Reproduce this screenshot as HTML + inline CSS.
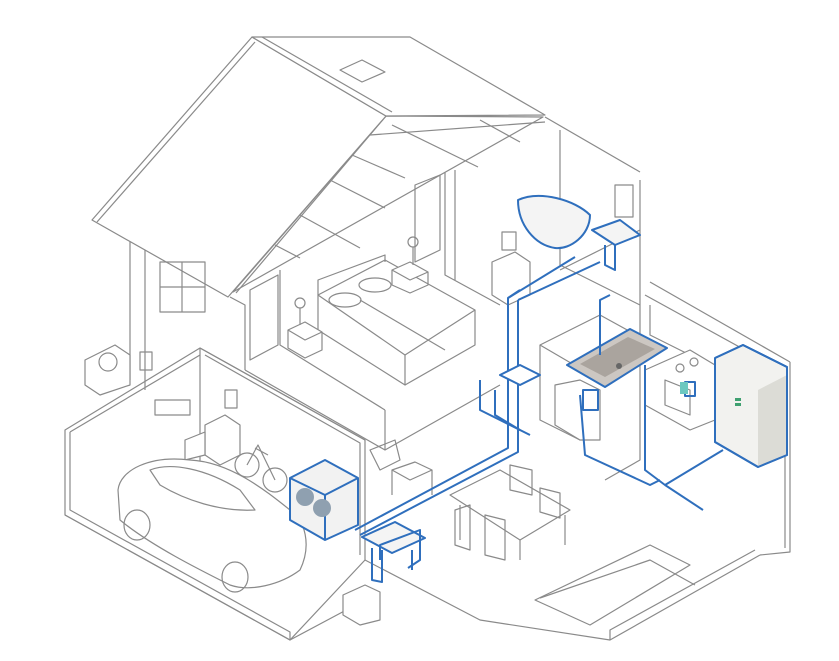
<!DOCTYPE html>
<html><head><meta charset="utf-8"><style>
html,body{margin:0;padding:0;background:#fff;width:839px;height:661px;overflow:hidden}
svg{display:block}
</style></head><body>
<svg width="839" height="661" viewBox="0 0 839 661" xmlns="http://www.w3.org/2000/svg">
<g fill="none" stroke="#8a8a8a" stroke-width="1.2" stroke-linejoin="round">
<!-- base / foundation -->
<polygon points="65,430 200,348 365,440 365,560 290,640 65,515" fill="#fff"/>
<polyline points="65,515 290,640 365,600"/>
<polyline points="290,640 290,632 70,510 70,432"/>
<polyline points="365,560 480,620 610,640 760,555"/>
<polyline points="610,640 610,630 755,550"/>
<polyline points="790,362 790,552 760,555"/>
<polyline points="785,365 785,548"/>
<polygon points="535,600 590,625 690,565 650,545" />
<polyline points="540,598 650,560 695,585"/>
<!-- garage walls -->
<polyline points="200,348 200,470"/>
<polyline points="200,348 365,440"/>
<polyline points="205,355 360,443 360,555"/>
<polyline points="70,432 200,355"/>
<!-- upper house walls -->
<polyline points="130,240 130,380"/>
<polyline points="145,250 145,390"/>
<polyline points="230,297 245,305 245,370"/>
<polyline points="245,370 385,450 500,385"/>
<polyline points="280,270 280,345 385,410"/>
<polyline points="385,410 385,450"/>
<polyline points="445,165 445,275 500,305"/>
<polyline points="455,170 455,280"/>
<polyline points="560,130 560,265 640,305"/>
<polyline points="640,180 640,310"/>
<polyline points="640,310 640,460 605,480"/>
<polyline points="545,117 640,172"/>
<polyline points="650,282 790,362"/>
<polyline points="645,295 785,372"/>
<polyline points="560,270 640,230"/>
<!-- roof -->
<polygon points="386,116 543,117 233,292" fill="#fff"/>
<polyline points="386,116 236,293"/>
<line x1="370" y1="135" x2="545" y2="122"/>
<line x1="392" y1="125" x2="478" y2="167"/>
<line x1="352" y1="155" x2="405" y2="178"/>
<line x1="330" y1="180" x2="385" y2="208"/>
<line x1="300" y1="215" x2="360" y2="248"/>
<line x1="275" y1="245" x2="300" y2="258"/>
<line x1="480" y1="120" x2="520" y2="142"/>
<polygon points="92,220 252,37 386,116 228,297" fill="#fff"/>
<polyline points="97,222 255,42"/>
<polygon points="252,37 410,37 545,115 386,116" fill="#fff"/>
<polyline points="262,37 392,112"/>
<polygon points="340,70 362,60 385,72 362,82"/>
<!-- windows -->
<rect x="160" y="262" width="45" height="50" />
<line x1="182" y1="262" x2="182" y2="312"/><line x1="160" y1="287" x2="205" y2="287"/>
<rect x="615" y="185" width="18" height="32"/>
<polygon points="250,290 278,275 278,345 250,360"/>
<polygon points="415,185 440,175 440,250 415,262"/>
<!-- AC unit -->
<polygon points="85,360 115,345 130,355 130,385 100,395 85,385" fill="#fff"/>
<circle cx="108" cy="362" r="9"/>
<rect x="140" y="352" width="12" height="18"/>
<!-- bed -->
<polygon points="318,295 385,260 475,310 405,355" fill="#fff"/>
<polyline points="318,295 318,330 405,385 405,355"/>
<polyline points="405,385 475,345 475,310"/>
<polyline points="318,295 318,280 385,255 385,262"/>
<ellipse cx="345" cy="300" rx="16" ry="7"/><ellipse cx="375" cy="285" rx="16" ry="7"/>
<line x1="360" y1="300" x2="445" y2="350"/>
<!-- nightstands & lamps -->
<polygon points="288,330 305,322 322,332 305,340" fill="#fff"/><polyline points="288,330 288,348 305,358 322,350 322,332"/>
<circle cx="300" cy="303" r="5"/><line x1="300" y1="308" x2="300" y2="325"/>
<polygon points="392,270 410,262 428,272 410,280" fill="#fff"/><polyline points="392,270 392,285 410,293 428,285 428,272"/>
<circle cx="413" cy="242" r="5"/><line x1="413" y1="247" x2="413" y2="265"/>
<!-- dresser tv -->
<polygon points="492,262 515,252 530,262 530,295 508,305 492,295" fill="#fff"/>
<rect x="502" y="232" width="14" height="18"/>
<!-- dining -->
<polygon points="450,495 500,470 570,510 520,540" fill="#fff"/>
<line x1="460" y1="505" x2="460" y2="540"/><line x1="520" y1="540" x2="520" y2="560"/><line x1="565" y1="515" x2="565" y2="545"/>
<polygon points="510,465 532,470 532,495 510,490"/>
<polygon points="540,488 560,493 560,518 540,512"/>
<polygon points="455,510 470,505 470,550 455,545"/>
<polygon points="485,515 505,520 505,560 485,555"/>
<!-- chair in living -->
<path d="M370,450 l25,-10 l5,20 l-20,10 z"/>
<polygon points="392,470 415,462 432,470 410,480"/>
<polyline points="392,470 392,495"/><polyline points="432,470 432,495"/>
<!-- kitchen cabinets -->
<polyline points="650,305 650,335 700,360"/>
<polygon points="540,345 600,315 660,348 600,380" fill="#fff"/>
<polyline points="540,345 540,420 580,440 600,430"/>
<polygon points="645,370 690,350 715,365 715,420 690,430 645,405" fill="#fff"/>
<circle cx="680" cy="368" r="4"/><circle cx="694" cy="362" r="4"/>
<polygon points="665,380 690,390 690,415 665,405"/>
<polygon points="555,385 580,380 600,390 600,440 580,440 555,425" fill="#fff"/>
<!-- garage items -->
<polygon points="205,425 225,415 240,425 240,455 220,465 205,455" fill="#fff"/>
<polygon points="185,440 205,432 205,455 185,460" fill="#fff"/>
<circle cx="247" cy="465" r="12"/><circle cx="275" cy="480" r="12"/>
<polyline points="247,465 258,445 275,480"/><line x1="255" y1="448" x2="268" y2="455"/>
<rect x="225" y="390" width="12" height="18"/>
<rect x="155" y="400" width="35" height="15"/>
<!-- car -->
<path d="M118,490 C120,470 150,455 190,460 C230,462 265,490 290,510 C305,520 312,545 300,570 C280,585 250,592 230,585 C200,570 150,545 120,520 Z" fill="#fff"/>
<path d="M150,470 C170,462 205,468 240,490 L255,510 C220,512 185,500 160,485 Z"/>
<ellipse cx="137" cy="525" rx="13" ry="15"/><ellipse cx="235" cy="577" rx="13" ry="15"/>
<!-- small cabinet bottom -->
<polygon points="343,595 365,585 380,592 380,620 360,625 343,615" fill="#fff"/>
</g>
<!-- blue items -->
<g stroke="#2f6fbd" stroke-width="2" fill="none" stroke-linejoin="round">
<!-- washer -->
<polygon points="290,478 325,460 358,478 358,525 325,540 290,520" fill="#f2f2f2"/>
<polyline points="290,478 325,495 358,478"/><line x1="325" y1="495" x2="325" y2="540"/>
<!-- fridge -->
<polygon points="715,358 743,345 787,367 787,455 758,467 715,442" fill="#f2f2ef"/>
<polygon points="758,390 787,375 787,455 758,467" fill="#dcdcd6" stroke="none"/>
<polyline points="715,358 743,345 787,367 787,455 758,467 715,442 715,358"/>
<!-- sink kitchen -->
<polygon points="567,365 630,329 667,348 605,387" fill="#ccc7c2"/>
<polygon points="580,364 628,337 655,349 605,377" fill="#aaa49e" stroke="none"/>
<circle cx="619" cy="366" r="3" fill="#666" stroke="none"/>
<!-- bathtub -->
<path d="M518,200 C540,190 575,200 590,215 C590,235 570,250 555,248 C535,245 518,225 518,200 Z" fill="#f4f4f4"/>
<polygon points="592,230 620,220 640,235 615,245" fill="#f4f4f4"/>
<polyline points="605,245 605,265 615,270 615,245"/>
<!-- utility sink -->
<polygon points="362,537 395,522 425,538 392,553" fill="#f4f4f4"/>
<polyline points="372,548 372,580 382,582 382,550"/>
<polyline points="412,550 412,570"/>
<!-- pipes -->
<polyline points="355,530 508,448 508,298 520,290"/>
<polyline points="360,535 518,452 518,300"/>
<polyline points="508,298 575,257"/>
<polyline points="518,300 600,262"/>
<polyline points="480,380 480,410 530,435"/>
<polyline points="495,390 495,415 520,430"/>
<polyline points="580,395 585,455 650,485 660,480"/>
<polyline points="645,365 645,470 665,485 723,450"/>
<polyline points="665,485 703,510"/>
<polyline points="600,355 600,300 610,295"/>
<polyline points="380,560 380,545 420,530 420,560 408,568"/>
<polygon points="500,375 520,365 540,375 520,385" fill="#fff"/>
<rect x="583" y="390" width="15" height="20" fill="#fff"/>
<rect x="685" y="382" width="10" height="14"/>
</g>
<g fill="#8fa0b0"><circle cx="305" cy="497" r="9"/><circle cx="322" cy="508" r="9"/></g>
<rect x="680" y="382" width="8" height="12" fill="#6cc8c0"/>
<g fill="#3fa070"><rect x="735" y="398" width="6" height="3"/><rect x="735" y="403" width="6" height="3"/></g>
</svg>
</body></html>
